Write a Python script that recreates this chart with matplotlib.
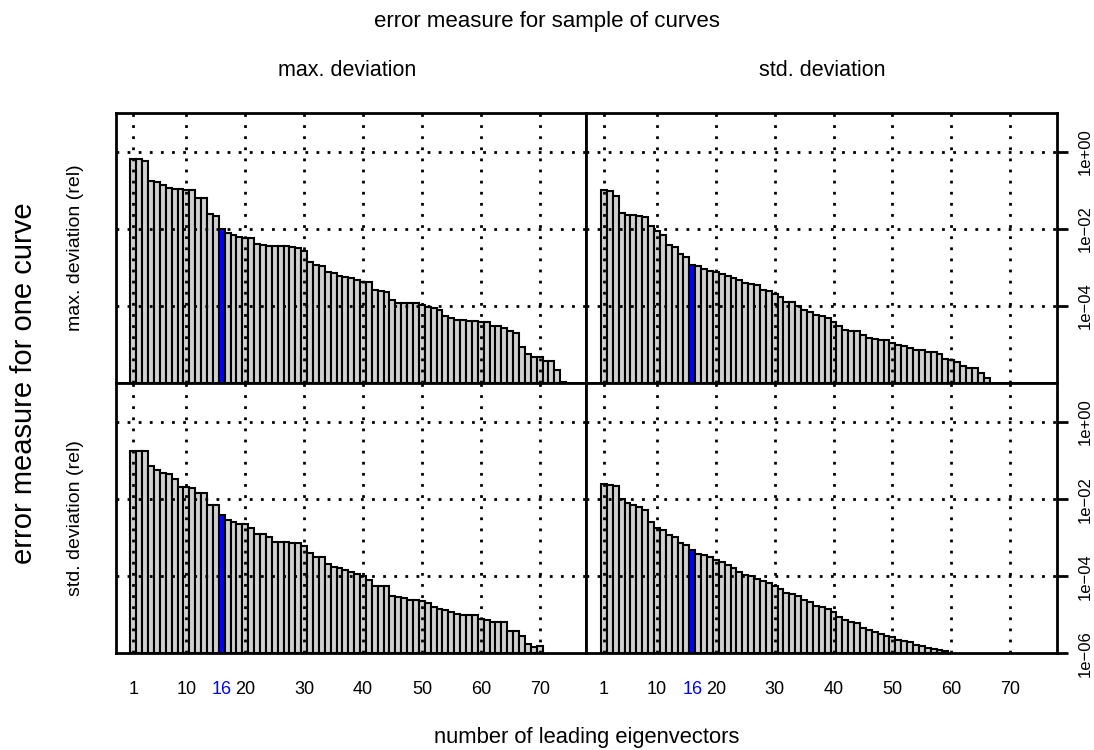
import numpy as np
import matplotlib
matplotlib.use("Agg")
import matplotlib.pyplot as plt
from matplotlib.ticker import FixedLocator, NullLocator

plt.rcParams['font.family'] = ['Liberation Sans', 'DejaVu Sans']

n_eig = 75
chosen = 16

# log10 of relative error, per number of leading eigenvectors
# rows: error for one curve, columns: error measure over the sample
max_max = [-0.173, -0.173, -0.242, -0.753, -0.788, -0.866, -0.935, -0.952, -0.961, -0.996,
           -0.996, -1.186, -1.186, -1.619, -1.654, -1.991, -2.104, -2.147, -2.208, -2.225,
           -2.225, -2.381, -2.407, -2.433, -2.433, -2.442, -2.450, -2.468, -2.502, -2.571,
           -2.857, -2.944, -2.952, -3.117, -3.134, -3.212, -3.247, -3.264, -3.333, -3.377,
           -3.385, -3.576, -3.610, -3.628, -3.853, -3.922, -3.922, -3.922, -3.931, -3.965,
           -4.026, -4.052, -4.095, -4.268, -4.312, -4.372, -4.372, -4.381, -4.381, -4.416,
           -4.424, -4.511, -4.519, -4.563, -4.658, -4.701, -5.074, -5.238, -5.325, -5.325,
           -5.429, -5.429, -5.654, -5.957]
max_std = [-0.996, -1.013, -1.143, -1.576, -1.645, -1.645, -1.654, -1.680, -1.922, -2.052,
           -2.147, -2.424, -2.468, -2.658, -2.727, -2.935, -2.961, -3.030, -3.100, -3.126,
           -3.177, -3.221, -3.264, -3.316, -3.394, -3.420, -3.463, -3.576, -3.619, -3.680,
           -3.766, -3.887, -3.905, -4.009, -4.113, -4.147, -4.225, -4.260, -4.303, -4.424,
           -4.528, -4.615, -4.658, -4.658, -4.745, -4.831, -4.857, -4.883, -4.883, -4.952,
           -5.004, -5.030, -5.091, -5.134, -5.134, -5.203, -5.203, -5.255, -5.368, -5.411,
           -5.455, -5.558, -5.602, -5.602, -5.740, -5.861]
std_max = [-0.745, -0.745, -0.745, -1.134, -1.247, -1.316, -1.359, -1.472, -1.680, -1.680,
           -1.714, -1.835, -1.835, -2.139, -2.139, -2.407, -2.528, -2.589, -2.632, -2.632,
           -2.745, -2.892, -2.892, -2.978, -3.108, -3.108, -3.108, -3.134, -3.134, -3.203,
           -3.394, -3.489, -3.489, -3.671, -3.749, -3.784, -3.844, -3.887, -3.931, -3.983,
           -4.104, -4.242, -4.260, -4.260, -4.502, -4.537, -4.571, -4.606, -4.623, -4.632,
           -4.693, -4.797, -4.848, -4.883, -4.935, -4.970, -4.996, -4.996, -5.004, -5.108,
           -5.143, -5.186, -5.186, -5.186, -5.411, -5.411, -5.558, -5.758, -5.835, -5.818]
std_std = [-1.602, -1.628, -1.662, -1.983, -2.095, -2.139, -2.208, -2.286, -2.597, -2.745,
           -2.805, -2.935, -2.978, -3.134, -3.177, -3.307, -3.411, -3.455, -3.506, -3.584,
           -3.628, -3.697, -3.784, -3.887, -3.957, -4.000, -4.069, -4.130, -4.173, -4.242,
           -4.320, -4.433, -4.450, -4.519, -4.606, -4.675, -4.762, -4.797, -4.848, -4.918,
           -5.056, -5.126, -5.177, -5.212, -5.342, -5.403, -5.455, -5.498, -5.541, -5.576,
           -5.645, -5.680, -5.697, -5.775, -5.818, -5.861, -5.887, -5.922, -5.931]

col_titles = ["max. deviation", "std. deviation"]
row_titles = ["max. deviation (rel)", "std. deviation (rel)"]
panels = [[max_max, max_std], [std_max, std_std]]

x_ticks = [1, 10, 16, 20, 30, 40, 50, 60, 70]
x_grid = [1, 10, 20, 30, 40, 50, 60, 70]
y_grid = [1e0, 1e-2, 1e-4]
y_ticks_top = [1e0, 1e-2, 1e-4]
y_ticks_bottom = [1e0, 1e-2, 1e-4, 1e-6]

y_low = 1e-6
y_high = 10 ** 1.01
pad = 0.04 * (n_eig - 1)

fig = plt.figure(figsize=(10.94, 7.5), dpi=100)
gs = fig.add_gridspec(2, 2, left=0.106, right=0.9662, top=0.8493, bottom=0.1289,
                      wspace=0, hspace=0)


def exp_label(v):
    e = int(round(np.log10(v)))
    sign = "+" if e >= 0 else "\u2212"
    return "1e%s%02d" % (sign, abs(e))


dotted = (0, (1, 3))

for r in range(2):
    for c in range(2):
        ax = fig.add_subplot(gs[r, c])
        vals = 10 ** np.array(panels[r][c])
        pos = np.arange(1, len(vals) + 1)
        colors = ['blue' if p == chosen else '#d0d0d0' for p in pos]
        ax.bar(pos, vals - y_low, bottom=y_low, width=1.0, color=colors,
               edgecolor='black', linewidth=1.5, zorder=2)
        ax.set_yscale('log')
        ax.set_ylim(y_low, y_high)
        ax.set_xlim(1 - pad, n_eig + pad)

        for gx in x_grid:
            ax.axvline(gx, color='black', linestyle=dotted, linewidth=2.0, zorder=3)
        for gy in y_grid:
            ax.axhline(gy, color='black', linestyle=dotted, linewidth=2.0, zorder=3)

        for sp in ax.spines.values():
            sp.set_linewidth(2.0)
            sp.set_zorder(4)

        # x axis labels on the bottom row only
        ax.xaxis.set_major_locator(FixedLocator(x_ticks))
        ax.xaxis.set_minor_locator(NullLocator())
        if r == 1:
            ax.set_xticklabels([str(t) for t in x_ticks])
            ax.tick_params(axis='x', length=0, labelsize=13, pad=20)
            for lab, t in zip(ax.get_xticklabels(), x_ticks):
                if t == chosen:
                    lab.set_color('blue')
        else:
            ax.tick_params(axis='x', length=0, labelbottom=False)

        # y axis on the right column only
        ax.yaxis.set_minor_locator(NullLocator())
        if c == 1:
            yt = y_ticks_top if r == 0 else y_ticks_bottom
            ax.yaxis.set_major_locator(FixedLocator(yt))
            ax.yaxis.tick_right()
            ax.set_yticklabels([exp_label(v) for v in yt])
            ax.tick_params(axis='y', direction='out', length=8, width=2.0,
                           labelsize=12, pad=7)
            for lab in ax.get_yticklabels():
                lab.set_rotation(90)
                lab.set_va('center')
        else:
            ax.yaxis.set_major_locator(NullLocator())

fig.text(0.5, 1 - 21 / 750, "error measure for sample of curves",
         ha='center', va='center', fontsize=16)
fig.text(347 / 1094, 1 - 70 / 750, col_titles[0], ha='center', va='center', fontsize=15.5)
fig.text(822 / 1094, 1 - 70 / 750, col_titles[1], ha='center', va='center', fontsize=15.5)
fig.text(24 / 1094, 1 - 383 / 750, "error measure for one curve",
         ha='center', va='center', rotation=90, fontsize=21)
fig.text(75 / 1094, 1 - 248 / 750, row_titles[0], ha='center', va='center',
         rotation=90, fontsize=14)
fig.text(75 / 1094, 1 - 518 / 750, row_titles[1], ha='center', va='center',
         rotation=90, fontsize=14)
fig.text(587 / 1094, 1 - 737 / 750, "number of leading eigenvectors",
         ha='center', va='center', fontsize=15.8)

fig.savefig("out.png", dpi=100)
